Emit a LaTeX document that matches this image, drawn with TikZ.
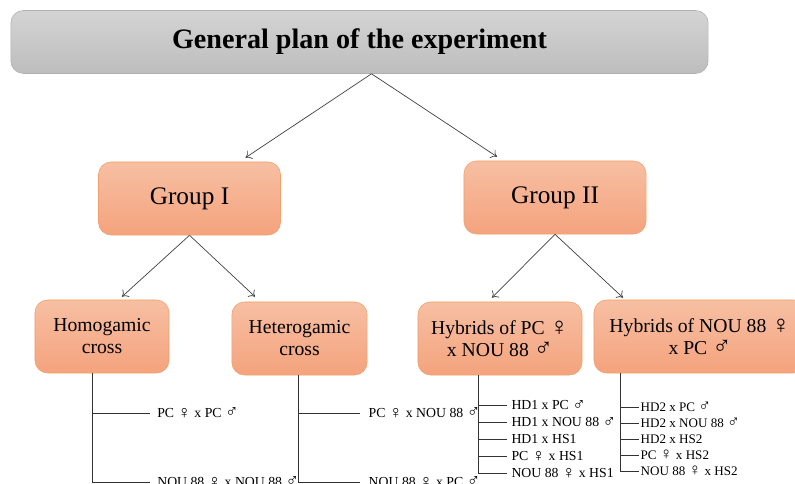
\documentclass[tikz,border=0pt]{standalone}
\usepackage{fontspec}
\setmainfont{Liberation Serif}
\usepackage{xcolor}
\usetikzlibrary{arrows,arrows.meta,positioning}

\definecolor{headtop}{HTML}{D4D4D4}
\definecolor{headbot}{HTML}{BDBDBD}
\definecolor{headline}{HTML}{B0B0B0}
\definecolor{boxtop}{HTML}{F7BFA3}
\definecolor{boxbot}{HTML}{F4A37D}
\definecolor{boxline}{HTML}{F2A06A}

\newcommand{\femsym}{\raisebox{-0.12ex}{\scalebox{1.3}{♀}}}
\newcommand{\malsym}{\raisebox{-0.04ex}{\scalebox{1.3}{♂}}}

\begin{document}
\begin{tikzpicture}[
    x=0.025cm, y=-0.025cm,
    box/.style={rounded corners=9pt, align=center, inner sep=2pt},
    head/.style={box, draw=headline, top color=headtop, bottom color=headbot,
        font=\fontsize{20}{24}\selectfont\bfseries, minimum width=17.43cm, minimum height=1.575cm},
    group/.style={box, draw=boxline, top color=boxtop, bottom color=boxbot,
        font=\fontsize{18}{21}\selectfont, minimum width=4.55cm, minimum height=1.825cm},
    cross/.style={box, draw=boxline, top color=boxtop, bottom color=boxbot,
        font=\fontsize{14}{15.6}\selectfont, minimum height=1.825cm},
    leaf/.style={anchor=west, inner xsep=4pt, inner ysep=1pt, font=\fontsize{9.8}{11}\selectfont},
    leafs/.style={leaf, inner xsep=1pt, font=\fontsize{9.3}{11}\selectfont},
    arrow/.style={-{To[length=4pt,width=7pt]}, black!75, line width=0.5pt},
    tree/.style={black!80, line width=0.5pt}
]
\useasboundingbox (0,0) rectangle (795,484);
\clip (0,0) rectangle (795,484);

% Title
\node[head] (plan) at (359.5,42) {General plan of the experiment};

% Group nodes
\node[group] (grpI) at (189.5,198.5) {Group I};
\node[group] (grpII) at (555,197.5) {Group II};

% Cross nodes
\node[cross, minimum width=3.35cm] (homo) at (102,336.5) {Homogamic\\cross};
\node[cross, minimum width=3.38cm] (hetero) at (299.5,338.5) {Heterogamic\\cross};
\node[cross, minimum width=4.1cm] (hybpc) at (500,338.5) {Hybrids of PC \femsym\\x NOU 88 \malsym};
\node[cross, minimum width=5.3cm] (hybnou) at (700,336.5) {Hybrids of NOU 88 \femsym\\x PC \malsym};

% Plan to groups
\draw[arrow] ([xshift=0.3cm]plan.south) -- ([xshift=1.4cm,yshift=0.1cm]grpI.north);
\draw[arrow] ([xshift=0.3cm]plan.south) -- ([xshift=-1.45cm,yshift=0.1cm]grpII.north);

% Groups to crosses
\draw[arrow] (grpI.south) -- ([xshift=0.5cm,yshift=0.075cm]homo.north);
\draw[arrow] (grpI.south) -- ([xshift=-1.11cm,yshift=0.125cm]hetero.north);
\draw[arrow] (grpII.south) -- ([xshift=-0.2cm,yshift=0.1cm]hybpc.north);
\draw[arrow] (grpII.south) -- ([xshift=-1.925cm,yshift=0.05cm]hybnou.north);

% Homogamic cross
\node[leaf, inner xsep=5pt] (homo1) at (150,413) {PC \femsym\ x PC \malsym};
\node[leaf, inner xsep=5pt] (homo2) at (150,482) {NOU 88 \femsym\ x NOU 88 \malsym};
\draw[tree] ([xshift=-0.25cm]homo.south) |- (homo1.west);
\draw[tree] ([xshift=-0.25cm]homo.south) |- (homo2.west);

% Heterogamic cross
\node[leaf, inner xsep=6pt] (het1) at (360,413) {PC \femsym\ x NOU 88 \malsym};
\node[leaf, inner xsep=6pt] (het2) at (360,482) {NOU 88 \femsym\ x PC \malsym};
\draw[tree] ([xshift=-0.04cm]hetero.south) |- (het1.west);
\draw[tree] ([xshift=-0.04cm]hetero.south) |- (het2.west);

% Hybrids of PC x NOU 88
\node[leaf, inner xsep=3pt] (hd1a) at (507,405) {HD1 x PC \malsym};
\node[leaf, inner xsep=3pt] (hd1b) at (507,422) {HD1 x NOU 88 \malsym};
\node[leaf, inner xsep=3pt] (hd1c) at (507,439) {HD1 x HS1};
\node[leaf, inner xsep=3pt] (hd1d) at (507,456) {PC \femsym\ x HS1};
\node[leaf, inner xsep=3pt] (hd1e) at (507,473) {NOU 88 \femsym\ x HS1};
\draw[tree] ([xshift=-0.55cm]hybpc.south) |- (hd1a.west);
\draw[tree] ([xshift=-0.55cm]hybpc.south) |- (hd1b.west);
\draw[tree] ([xshift=-0.55cm]hybpc.south) |- (hd1c.west);
\draw[tree] ([xshift=-0.55cm]hybpc.south) |- (hd1d.west);
\draw[tree] ([xshift=-0.55cm]hybpc.south) |- (hd1e.west);

% Hybrids of NOU 88 x PC
\node[leafs] (hd2a) at (639,407) {HD2 x PC \malsym};
\node[leafs] (hd2b) at (639,423) {HD2 x NOU 88 \malsym};
\node[leafs] (hd2c) at (639,439) {HD2 x HS2};
\node[leafs] (hd2d) at (639,455) {PC \femsym\ x HS2};
\node[leafs] (hd2e) at (639,471) {NOU 88 \femsym\ x HS2};
\draw[tree] ([xshift=-2cm]hybnou.south) |- (hd2a.west);
\draw[tree] ([xshift=-2cm]hybnou.south) |- (hd2b.west);
\draw[tree] ([xshift=-2cm]hybnou.south) |- (hd2c.west);
\draw[tree] ([xshift=-2cm]hybnou.south) |- (hd2d.west);
\draw[tree] ([xshift=-2cm]hybnou.south) |- (hd2e.west);

\end{tikzpicture}
\end{document}
